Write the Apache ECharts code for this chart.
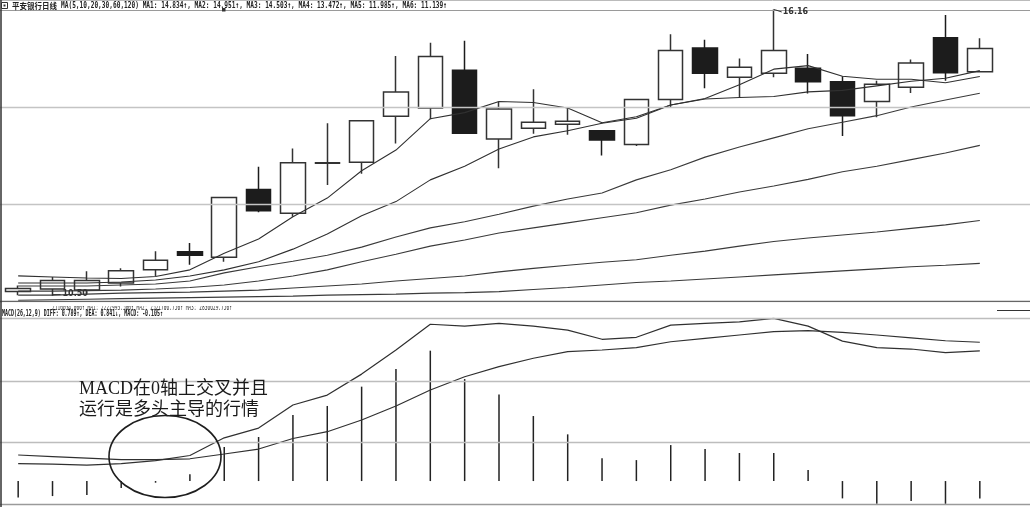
<!DOCTYPE html>
<html><head><meta charset="utf-8">
<script src="https://cdn.jsdelivr.net/npm/echarts@6/dist/echarts.min.js"></script>
<style>html,body{margin:0;padding:0;background:#fff;}#c{width:1030px;height:507px;}</style>
</head><body><div id="c"></div><script>
// ---------- data ----------
const days = ['1','2','3','4','5','6','7','8','9','10','11','12','13','14','15','16','17','18','19','20','21','22','23','24','25','26','27','28','29'];
const openP  = [10.58,10.63,10.61,10.75,11.01,11.37,11.26,12.60,12.13,13.12,13.14,14.05,14.21,14.96,13.60,13.81,13.89,13.76,13.49,14.38,15.40,14.82,14.90,15.00,14.73,14.34,14.62,15.60,14.93];
const closeP = [10.64,10.80,10.80,10.99,11.20,11.30,12.44,12.18,13.13,13.13,13.96,14.53,15.23,13.71,14.19,13.93,13.95,13.58,14.38,15.35,14.90,15.02,15.35,14.73,14.06,14.68,15.10,14.91,15.39];
const lowP   = [10.51,10.50,10.52,10.68,10.89,11.11,11.17,12.15,12.06,12.69,12.91,13.51,13.99,13.70,13.02,13.70,13.68,13.27,13.46,14.21,14.60,14.43,14.82,14.50,13.66,14.03,14.51,14.75,14.92];
const highP  = [10.70,10.87,10.98,11.04,11.38,11.54,12.45,13.05,13.41,13.91,13.97,15.24,15.50,15.54,14.34,14.58,14.21,13.77,14.39,15.67,15.56,15.19,16.16,15.28,14.84,14.75,15.17,16.05,15.59];
const ma5   = [10.89,10.87,10.85,10.84,10.88,11.01,11.34,11.62,12.06,12.43,12.97,13.38,14.00,14.12,14.34,14.32,14.21,13.92,14.04,14.27,14.40,14.67,14.98,15.05,14.84,14.78,14.78,14.71,14.834];
const ma10  = [10.75,10.75,10.75,10.77,10.81,10.89,11.01,11.17,11.42,11.72,12.08,12.36,12.79,13.06,13.40,13.64,13.76,13.91,14.01,14.27,14.39,14.42,14.44,14.53,14.56,14.65,14.74,14.80,14.951];
const ma20  = [10.69,10.69,10.69,10.71,10.73,10.79,10.95,11.07,11.18,11.30,11.46,11.66,11.84,11.96,12.11,12.27,12.41,12.53,12.79,12.99,13.24,13.44,13.62,13.80,13.93,14.06,14.23,14.37,14.503];
const ma30  = [10.59,10.59,10.60,10.61,10.63,10.66,10.71,10.79,10.89,11.01,11.17,11.32,11.48,11.60,11.74,11.84,11.94,12.04,12.14,12.29,12.41,12.55,12.67,12.80,12.95,13.06,13.19,13.32,13.472];
const ma60  = [10.51,10.51,10.53,10.55,10.56,10.57,10.59,10.61,10.65,10.69,10.73,10.79,10.84,10.89,10.97,11.04,11.10,11.16,11.21,11.30,11.38,11.48,11.57,11.64,11.70,11.76,11.83,11.90,11.985];
const ma120 = [10.41,10.42,10.43,10.44,10.45,10.46,10.47,10.48,10.49,10.51,10.52,10.53,10.55,10.56,10.58,10.62,10.66,10.71,10.76,10.79,10.83,10.87,10.91,10.95,10.99,11.03,11.07,11.10,11.139];
const diff = [0.106,0.103,0.097,0.106,0.124,0.155,0.262,0.321,0.461,0.521,0.648,0.794,0.950,0.939,0.956,0.939,0.915,0.859,0.871,0.945,0.956,0.965,0.986,0.939,0.848,0.808,0.800,0.778,0.789];
const dea  = [0.158,0.148,0.139,0.130,0.130,0.135,0.164,0.194,0.258,0.299,0.370,0.455,0.552,0.632,0.693,0.744,0.784,0.794,0.808,0.844,0.865,0.885,0.905,0.911,0.901,0.885,0.868,0.850,0.841];
const macd = [-0.099,-0.091,-0.085,-0.042,-0.010,0.042,0.206,0.267,0.400,0.455,0.572,0.679,0.790,0.618,0.525,0.394,0.283,0.138,0.127,0.218,0.194,0.170,0.170,0.067,-0.105,-0.138,-0.121,-0.138,-0.105];
const mainRange = [10.394, 16.150];
const mainGridLevels = [16.150, 14.231, 12.312];
const macdRange = [-0.139, 0.988];
const macdGridLevels = [0.988, 0.609, 0.236, -0.139];
const stockName = '平安银行日线';
const maPeriods = [5, 10, 20, 30, 60, 120];
const volText = '2110034.000↑ MA1: 2222993.500↑ MA2: 2521706.750↑ MA3: 2836629.750↑';
const noteLines = ['MACD在0轴上交叉并且', '运行是多头主导的行情'];

// ---------- chart ----------
const chart = echarts.init(document.getElementById('c'), null, {renderer: 'canvas'});
const candleData = days.map((d, i) => [openP[i], closeP[i], lowP[i], highP[i]]);
const maAll = [ma5, ma10, ma20, ma30, ma60, ma120];

function maLine(data, idx) {
  return {type: 'line', xAxisIndex: 0, yAxisIndex: 0, data: data, symbol: 'none', silent: true, z: 4,
    lineStyle: {color: idx < 2 ? '#303030' : '#3a3a3a', width: 1.1}};
}

chart.setOption({
  animation: false,
  backgroundColor: '#fff',
  grid: [
    {left: 1, right: 33, top: 10, height: 291},
    {left: 1, right: 33, top: 318, height: 186}
  ],
  xAxis: [
    {type: 'category', data: days, gridIndex: 0, show: false, boundaryGap: true},
    {type: 'category', data: days, gridIndex: 1, show: false, boundaryGap: true}
  ],
  yAxis: [
    {type: 'value', gridIndex: 0, min: mainRange[0], max: mainRange[1], show: false, splitLine: {show: false}},
    {type: 'value', gridIndex: 1, min: macdRange[0], max: macdRange[1], show: false, splitLine: {show: false}}
  ],
  series: [
    {type: 'candlestick', xAxisIndex: 0, yAxisIndex: 0, data: candleData, barWidth: 25, silent: true, z: 2,
      itemStyle: {color: '#ffffff', color0: '#1c1c1c', borderColor: '#333', borderColor0: '#1c1c1c', borderWidth: 1.5}}
  ].concat(maAll.map((d, i) => maLine(d, i))).concat([
    {type: 'bar', xAxisIndex: 1, yAxisIndex: 1, data: macd, barWidth: 1.5, silent: true,
      itemStyle: {color: '#222'}},
    {type: 'line', xAxisIndex: 1, yAxisIndex: 1, data: diff, symbol: 'none', silent: true, z: 4,
      lineStyle: {color: '#303030', width: 1.2}},
    {type: 'line', xAxisIndex: 1, yAxisIndex: 1, data: dea, symbol: 'none', silent: true, z: 4,
      lineStyle: {color: '#303030', width: 1.2}}
  ])
});

// ---------- decorations placed through the chart's scales ----------
const W = 1030;
const yMain = v => chart.convertToPixel({yAxisIndex: 0}, v);
const yMacd = v => chart.convertToPixel({yAxisIndex: 1}, v);
const measureCtx = document.createElement('canvas').getContext('2d');
function fitText(text, font, x, y, targetW, fill) {
  measureCtx.font = font;
  const w = measureCtx.measureText(text).width;
  return {type: 'text', x: x, y: y, scaleX: targetW / w, silent: true, z: 20,
    style: {text: text, font: font, fill: fill || '#222', align: 'left', verticalAlign: 'middle'}};
}
function hline(y, color, width, x1, x2) {
  return {type: 'line', silent: true, z: 10,
    shape: {x1: x1 == null ? 0 : x1, y1: y, x2: x2 == null ? W : x2, y2: y},
    style: {stroke: color, lineWidth: width}};
}
const last = a => a[a.length - 1];
const g = [];

// frame
g.push({type: 'line', silent: true, z: 12, shape: {x1: 1, y1: 0, x2: 1, y2: 507}, style: {stroke: '#333', lineWidth: 1.5}});
g.push(hline(0.5, '#bbb', 1));
mainGridLevels.forEach((v, i) => g.push(hline(Math.round(yMain(v)) + 0.5, i === 0 ? '#9a9a9a' : '#c4c4c4', i === 0 ? 1.2 : 1.5)));
g.push(hline(Math.round(yMain(mainRange[0])) + 0.5, '#666', 1.5));
macdGridLevels.forEach((v, i) => g.push(hline(Math.round(yMacd(v)) + 0.5, i === 3 ? '#9a9a9a' : '#bdbdbd', 1.5)));

// header of main panel
g.push({type: 'rect', silent: true, z: 20, shape: {x: 1.5, y: 2.5, width: 6, height: 6}, style: {fill: '#fff', stroke: '#333', lineWidth: 1}});
g.push({type: 'rect', silent: true, z: 20, shape: {x: 3.5, y: 4.5, width: 2, height: 2}, style: {fill: '#333'}});
g.push(fitText(stockName, 'bold 8px "Noto Sans CJK SC"', 12, 5.5, 45, '#222'));
const maText = 'MA(' + maPeriods.join(',') + ') ' +
  maAll.map((a, i) => 'MA' + (i + 1) + ': ' + last(a).toFixed(3) + '↑').join(', ');
g.push(fitText(maText, 'bold 9px "DejaVu Sans Mono"', 61, 5.5, 386, '#222'));
g.push({type: 'rect', silent: true, z: 20, shape: {x: 222, y: 8, width: 3.5, height: 3.5}, style: {fill: '#333'}});

// clipped volume header + MACD header
g.push(fitText(volText, '8px "DejaVu Sans Mono"', 52, 307.5, 180, '#333'));
g.push({type: 'rect', silent: true, z: 21, shape: {x: 2, y: 302.3, width: 1028, height: 3.6}, style: {fill: '#fff'}});
const macdText = 'MACD(26,12,9) DIFF: ' + last(diff).toFixed(3) + '↑, DEA: ' + last(dea).toFixed(3) +
  '↓, MACD: ' + last(macd).toFixed(3) + '↑';
g.push(fitText(macdText, 'bold 8px "DejaVu Sans Mono"', 2, 314, 161, '#222'));
g.push(hline(310.5, '#333', 1.2, 997, 1030));

// max / min price markers
let iMax = 0, iMin = 0;
highP.forEach((v, i) => { if (v > highP[iMax]) iMax = i; });
lowP.forEach((v, i) => { if (v < lowP[iMin]) iMin = i; });
const pMax = chart.convertToPixel({xAxisIndex: 0, yAxisIndex: 0}, [iMax, highP[iMax]]);
const pMin = chart.convertToPixel({xAxisIndex: 0, yAxisIndex: 0}, [iMin, lowP[iMin]]);
g.push({type: 'polyline', silent: true, z: 20, shape: {points: [[pMax[0], pMax[1]], [pMax[0] + 2, pMax[1] + 0.5], [pMax[0] + 8, pMax[1] + 2.5]]}, style: {stroke: '#333', lineWidth: 1, fill: null}});
g.push({type: 'text', silent: true, z: 20, x: pMax[0] + 9, y: pMax[1] + 2.5,
  style: {text: highP[iMax].toFixed(2), font: 'bold 8px "DejaVu Sans"', fill: '#333', align: 'left', verticalAlign: 'middle'}});
g.push({type: 'polyline', silent: true, z: 20, shape: {points: [[pMin[0], pMin[1] - 4], [pMin[0], pMin[1] - 1], [pMin[0] + 8, pMin[1] - 1]]}, style: {stroke: '#333', lineWidth: 1, fill: null}});
g.push({type: 'text', silent: true, z: 20, x: pMin[0] + 10, y: pMin[1] - 1.5,
  style: {text: lowP[iMin].toFixed(2), font: 'bold 8px "DejaVu Sans"', fill: '#333', align: 'left', verticalAlign: 'middle'}});

// annotation
const noteFont = '18px "Liberation Serif", "Noto Sans CJK SC"';
g.push({type: 'text', silent: true, z: 20, x: 79, y: 389.5, style: {text: noteLines[0], font: noteFont, fill: '#1a1a1a', align: 'left', verticalAlign: 'middle'}});
g.push({type: 'text', silent: true, z: 20, x: 79, y: 410.5, style: {text: noteLines[1], font: noteFont, fill: '#1a1a1a', align: 'left', verticalAlign: 'middle'}});
g.push({type: 'ellipse', silent: true, z: 20, shape: {cx: 165, cy: 456.5, rx: 56, ry: 41}, style: {fill: null, stroke: '#1e1e1e', lineWidth: 1.6}});

chart.setOption({graphic: {elements: g}});
</script></body></html>
